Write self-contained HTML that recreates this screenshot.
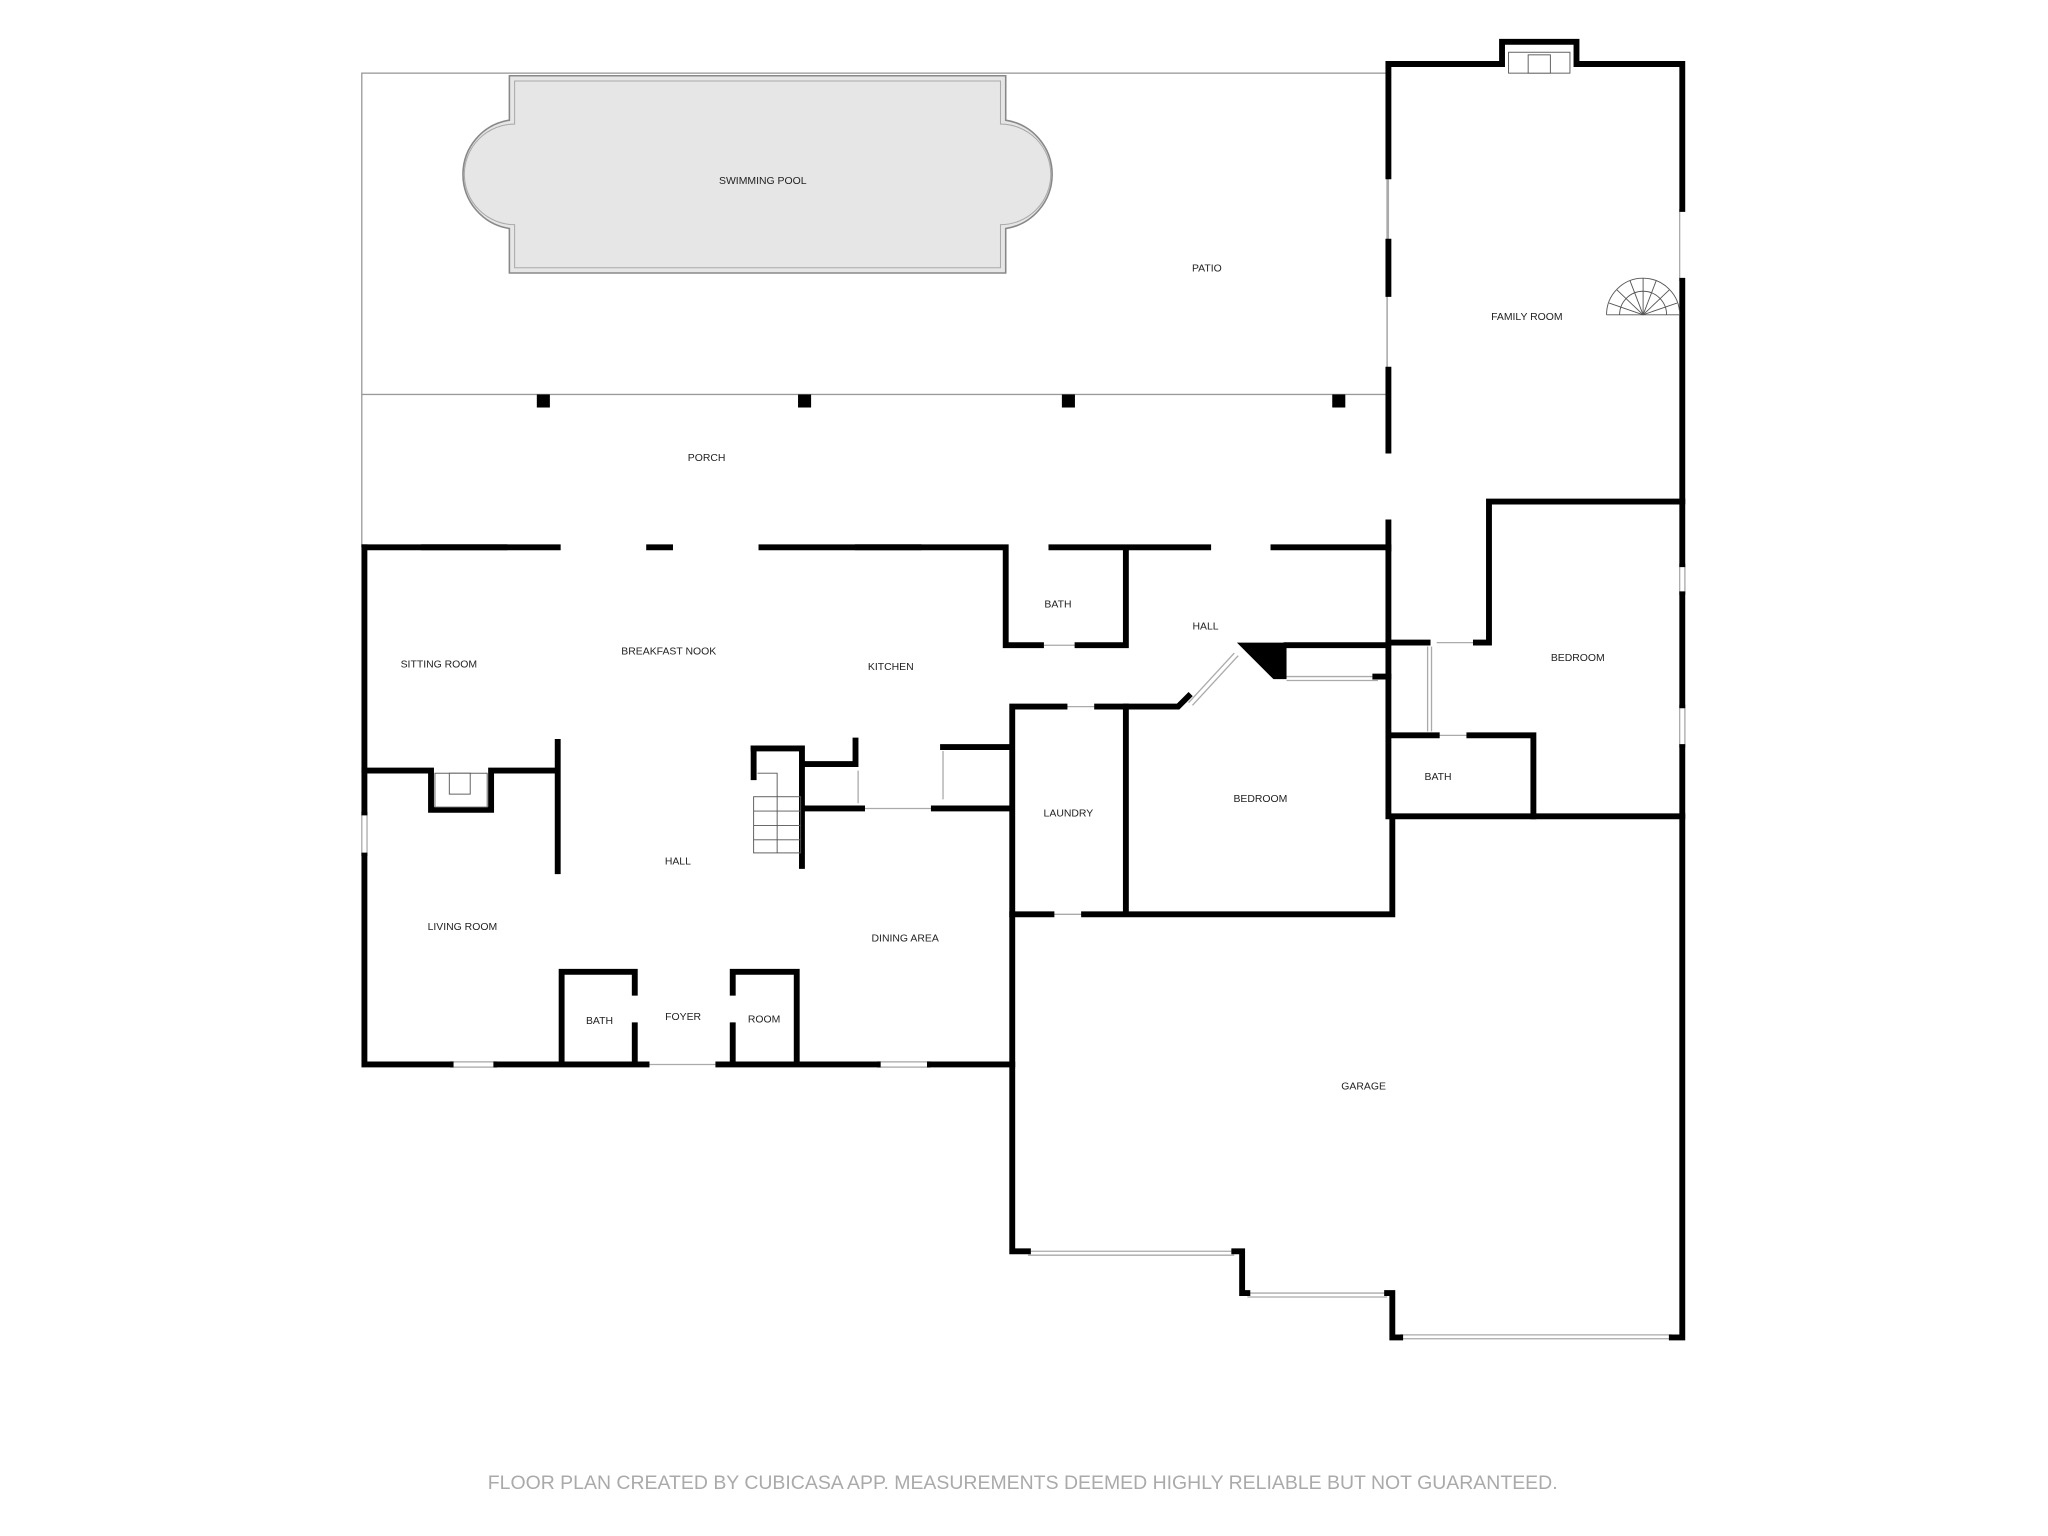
<!DOCTYPE html>
<html><head><style>
html,body{margin:0;padding:0;background:#fff;}
svg{display:block;}
text{font-family:"Liberation Sans",sans-serif;font-size:8px;fill:#222;text-anchor:middle;}
</style></head><body>
<svg width="2048" height="1536" viewBox="0 0 1568 1176" xmlns="http://www.w3.org/2000/svg">
<g fill="none" stroke="#999" stroke-width="1">
<rect x="277" y="56" width="785" height="246"/>
<line x1="277" y1="302" x2="277" y2="419"/>
</g>
<path d="M390,58 H770 V92 A42,42 0 0 1 770,175 V209 H390 V175 A42,42 0 0 1 390,92 Z" fill="#e6e6e6" stroke="#888" stroke-width="1.2"/>
<path d="M394,62 H766 V95 A38,38 0 0 1 766,172 V205 H394 V172 A38,38 0 0 1 394,95 Z" fill="none" stroke="#aaa" stroke-width="0.8"/>
<g fill="#000"><rect x="411" y="302" width="10" height="10"/><rect x="611" y="302" width="10" height="10"/><rect x="813" y="302" width="10" height="10"/><rect x="1020" y="302" width="10" height="10"/></g>
<g stroke="#aaa" stroke-width="1" fill="none">
<rect x="323" y="417" width="65" height="4"/><rect x="655" y="417" width="50" height="4"/>
<rect x="277" y="622" width="4" height="33"/>
<rect x="345" y="813" width="35" height="4"/><rect x="672" y="813" width="40" height="4"/>
<line x1="495" y1="815" x2="550" y2="815"/>
<line x1="1286" y1="160" x2="1286" y2="215"/><rect x="1286" y="432" width="4" height="23"/><rect x="1286" y="540" width="4" height="32"/>
<line x1="787" y1="958" x2="945" y2="958"/><line x1="787" y1="961" x2="945" y2="961"/>
<line x1="955" y1="990" x2="1062" y2="990"/><line x1="955" y1="993" x2="1062" y2="993"/>
<line x1="1072" y1="1022" x2="1280" y2="1022"/><line x1="1072" y1="1025" x2="1280" y2="1025"/>
<line x1="1063" y1="135" x2="1063" y2="185"/><line x1="1063" y1="420" x2="1063" y2="475"/>
<line x1="985" y1="518" x2="1055" y2="518"/><line x1="985" y1="521" x2="1055" y2="521"/>
<line x1="1093" y1="495" x2="1093" y2="560"/><line x1="1096" y1="495" x2="1096" y2="560"/>
<line x1="910" y1="538" x2="945" y2="500"/><line x1="913" y1="540" x2="948" y2="502"/>
<line x1="797" y1="494" x2="825" y2="494"/><line x1="815" y1="541" x2="840" y2="541"/><line x1="805" y1="700" x2="830" y2="700"/>
<line x1="660" y1="619" x2="715" y2="619"/><line x1="657" y1="590" x2="657" y2="615"/><line x1="722" y1="575" x2="722" y2="612"/>
<line x1="1100" y1="563" x2="1125" y2="563"/><line x1="1100" y1="492" x2="1130" y2="492"/>
</g>
<g stroke="#000" stroke-width="4.5" fill="none" stroke-linecap="square">
<path d="M1063,135 V49 H1150 V32 H1207 V49 H1288 V160"/>
<path d="M1063,185 V225 M1063,283 V345 M1063,400 V420"/>
<path d="M1288,215 V432 M1288,455 V540 M1288,572 V1024 H1280"/>
<path d="M1140,384 H1288 M1140,384 V492 H1130"/>
<path d="M279,419 H427 M497,419 H513 M583,419 H770 V494 H797 M825,494 H862 V419 M805,419 H925 M975,419 H1063 V492"/>
<path d="M279,419 V622 M279,655 V815 H345 M380,815 H495 M550,815 H672 M712,815 H775"/>
<path d="M279,590 H330 V620 H376 V590 H427 M427,568 V667"/>
<path d="M577,573 H614 V663 M614,585 H655 V567 M614,619 H660 M715,619 H773 M722,572 H773"/>
<path d="M577,573 V595"/>
<path d="M430,812 V744 H486 V760 M486,785 V812"/>
<path d="M610,812 V744 H561 V760 M561,785 V812"/>
<path d="M775,541 V958 H787 M775,541 H815 M840,541 H902 L910,533"/>
<path d="M862,541 V700 M775,700 H805 M830,700 H1066 V625 H1288"/>
<path d="M985,494 H1063 M1063,492 H1093 M1063,492 V625 M1066,563 H1100 M1125,563 H1174 V625"/>
<path d="M1053,518 H1063"/>
<path d="M945,958 H951 V990 H955 M1062,990 H1066 V1024 H1072"/>
</g>
<polygon points="947,492 985,492 985,520 975,520" fill="#000"/>
<g stroke="#555" stroke-width="0.7">
<rect x="333" y="592" width="40" height="26" fill="none"/>
<rect x="344" y="592" width="16" height="16" fill="#fff"/>
<rect x="1155" y="40" width="47" height="16" fill="none"/>
<rect x="1170" y="42" width="17" height="14" fill="#fff"/>
</g>
<g stroke="#555" stroke-width="0.7" fill="none">
<rect x="577" y="610" width="36" height="43"/>
<line x1="577" y1="621" x2="613" y2="621"/><line x1="577" y1="632" x2="613" y2="632"/><line x1="577" y1="643" x2="613" y2="643"/>
<line x1="595" y1="610" x2="595" y2="653"/><path d="M595,610 V592 H580"/>
<path d="M1230,241 A28,28 0 0 1 1286,241" /><path d="M1240,241 A18,18 0 0 1 1276,241"/>
<line x1="1258" y1="213" x2="1258" y2="241"/><line x1="1238" y1="222" x2="1258" y2="241"/><line x1="1278" y1="222" x2="1258" y2="241"/><line x1="1232" y1="232" x2="1258" y2="241"/><line x1="1284" y1="232" x2="1258" y2="241"/><line x1="1248" y1="215" x2="1258" y2="241"/><line x1="1268" y1="215" x2="1258" y2="241"/>
<line x1="1230" y1="241" x2="1286" y2="241"/>
</g>
<text x="584" y="141">SWIMMING POOL</text>
<text x="924" y="208">PATIO</text>
<text x="1169" y="245">FAMILY ROOM</text>
<text x="541" y="353">PORCH</text>
<text x="810" y="465">BATH</text>
<text x="923" y="482">HALL</text>
<text x="512" y="501">BREAKFAST NOOK</text>
<text x="336" y="511">SITTING ROOM</text>
<text x="682" y="513">KITCHEN</text>
<text x="1208" y="506">BEDROOM</text>
<text x="1101" y="597">BATH</text>
<text x="965" y="614">BEDROOM</text>
<text x="818" y="625">LAUNDRY</text>
<text x="519" y="662">HALL</text>
<text x="354" y="712">LIVING ROOM</text>
<text x="693" y="721">DINING AREA</text>
<text x="523" y="781">FOYER</text>
<text x="459" y="784">BATH</text>
<text x="585" y="783">ROOM</text>
<text x="1044" y="834">GARAGE</text>
<text x="783" y="1140" style="font-size:14.9px;fill:#aaa">FLOOR PLAN CREATED BY CUBICASA APP. MEASUREMENTS DEEMED HIGHLY RELIABLE BUT NOT GUARANTEED.</text>
</svg>
</body></html>
